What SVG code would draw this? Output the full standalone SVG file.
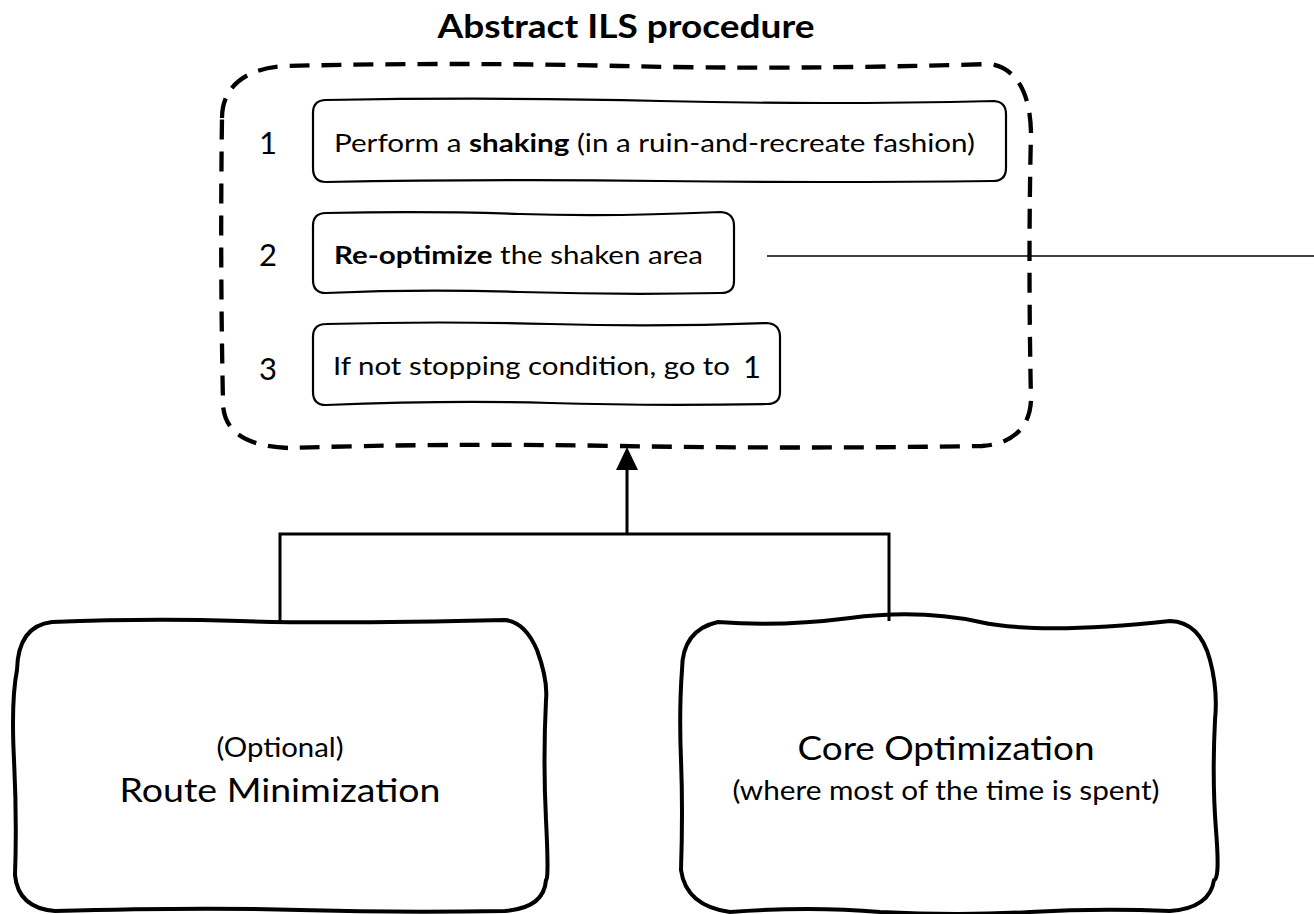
<svg xmlns="http://www.w3.org/2000/svg" width="1314" height="914" viewBox="0 0 1314 914">
<style>
text{font-family:Lato,"Open Sans","Liberation Sans",sans-serif;fill:#000}
.step{fill:#fff;stroke:#000;stroke-width:2.2;stroke-linejoin:round}
.big{fill:#fff;stroke:#000;stroke-width:4;stroke-linejoin:round}
.lbl{font-size:25px}
.num{font-size:31px}
.conn{fill:none;stroke:#000;stroke-width:3}
</style>
<rect width="1314" height="914" fill="#fff"/>

<g id="title">
<text x="626" y="38" text-anchor="middle" font-size="32" font-weight="bold" textLength="377" lengthAdjust="spacingAndGlyphs">Abstract ILS procedure</text>
</g>

<g id="ils-container">
<path d="M222,118 C222,88 244,68 286,66 Q450,62 620,66 T990,64 C1016,68 1030,92 1031,132 Q1028,260 1031,400 C1030,428 1012,444 982,446 Q800,449 620,446 T288,448 C246,446 223,432 223,402 Q220,260 222,118 Z" fill="none" stroke="#000" stroke-width="4.3" stroke-dasharray="20,12"/>
</g>

<g id="step1">
<text class="num" x="259" y="154">1</text>
<path class="step" d="M326,100 Q500,97 660,101 T994,101 Q1006,102 1006,114 L1006,168 Q1006,181 993,181 Q820,183 660,181 T326,182 Q313,182 313,168 L313,113 Q313,100 326,100 Z"/>
<text class="lbl" x="334" y="152" textLength="641" lengthAdjust="spacingAndGlyphs">Perform a <tspan font-weight="bold">shaking</tspan> (in a ruin-and-recreate fashion)</text>
</g>

<g id="step2">
<text class="num" x="259" y="266">2</text>
<path class="step" d="M326,213 Q430,211 520,214 T721,212 Q734,213 734,226 L734,281 Q734,293 721,293 Q620,295 520,292 T326,293 Q313,293 313,280 L313,226 Q313,213 326,213 Z"/>
<text class="lbl" x="334" y="264" textLength="369" lengthAdjust="spacingAndGlyphs"><tspan font-weight="bold">Re-optimize</tspan> the shaken area</text>
</g>

<g id="step3">
<text class="num" x="259" y="380">3</text>
<path class="step" d="M326,324 Q440,321 550,324 T767,323 Q780,324 780,337 L780,392 Q780,404 767,404 Q650,406 550,403 T326,405 Q313,405 313,392 L313,337 Q313,324 326,324 Z"/>
<text class="lbl" x="333" y="375" textLength="397" lengthAdjust="spacingAndGlyphs">If not stopping condition, go to</text>
<text class="num" x="743" y="378">1</text>
</g>

<g id="route-min">
<path class="big" d="M52,622 Q150,618 240,621 T505,620 Q525,622 537,650 Q548,680 546,700 Q543,760 546,820 T546,880 Q544,908 505,911 Q400,913 300,910 T55,911 Q18,908 15,875 Q17,820 14,760 T17,670 Q18,626 52,622 Z"/>
<text x="280" y="757" text-anchor="middle" font-size="26" textLength="127" lengthAdjust="spacingAndGlyphs">(Optional)</text>
<text x="280" y="802" text-anchor="middle" font-size="32" textLength="321" lengthAdjust="spacingAndGlyphs">Route Minimization</text>
</g>

<g id="core-opt">
<path class="big" d="M718,622 Q780,627 850,618 T980,622 T1170,621 Q1200,622 1210,660 Q1218,690 1215,720 Q1212,780 1216,830 T1214,880 Q1210,908 1170,911 Q1100,908 1030,912 T880,912 Q810,906 730,912 Q686,906 681,870 Q683,810 681,760 T682,670 Q682,630 718,622 Z"/>
<text x="946" y="760" text-anchor="middle" font-size="32" textLength="297" lengthAdjust="spacingAndGlyphs">Core Optimization</text>
<text x="946" y="800" text-anchor="middle" font-size="26" textLength="427" lengthAdjust="spacingAndGlyphs">(where most of the time is spent)</text>
</g>

<g id="connectors">
<path class="conn" d="M280,621 L280,534 L889,534 L889,621"/>
<path class="conn" d="M627,534 L627,470"/>
<path d="M616,470 L627,447 L638,470 Z" fill="#000"/>
<path d="M767,256 L1314,256" fill="none" stroke="#000" stroke-width="1.5"/>
</g>
</svg>
